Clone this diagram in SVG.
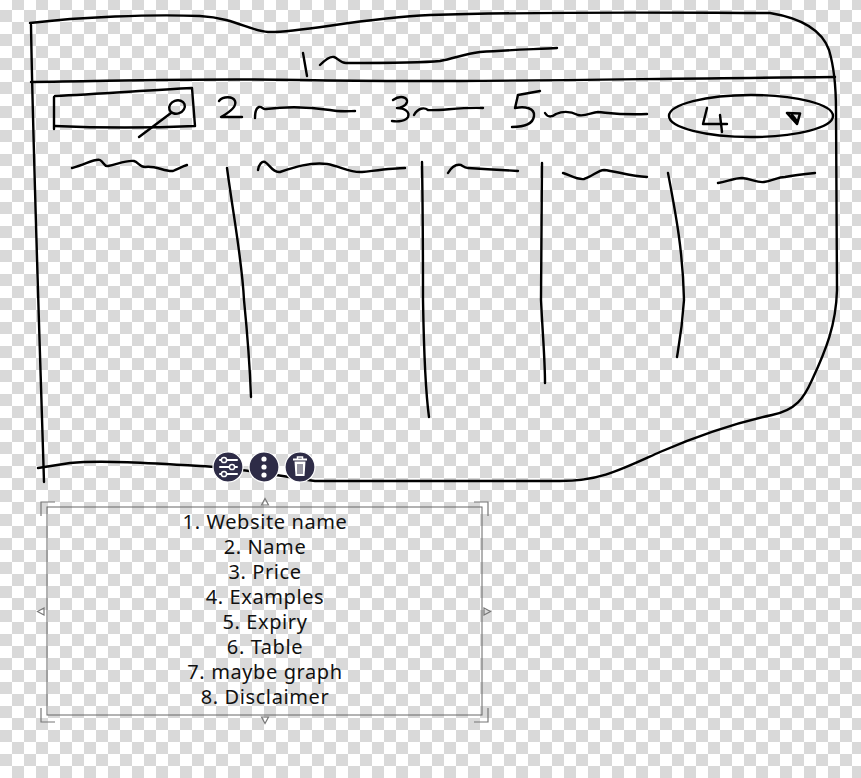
<svg xmlns="http://www.w3.org/2000/svg" width="861" height="778" viewBox="0 0 861 778">
<defs>
<pattern id="checker" x="0" y="-2" width="24" height="24" patternUnits="userSpaceOnUse">
<rect width="24" height="24" fill="#ffffff"/>
<rect x="12" y="0" width="12" height="12" fill="#d9d9d9"/>
<rect x="0" y="12" width="12" height="12" fill="#d9d9d9"/>
</pattern>
<style>
.ink{fill:none;stroke:#000;stroke-width:2.4;stroke-linecap:round;stroke-linejoin:round}
.btn{fill:#2e2c47;stroke:#ffffff;stroke-width:1.2}
.ico{fill:none;stroke:#fff;stroke-width:2;stroke-linecap:round}
.hdl{fill:none;stroke:#777;stroke-width:1.2}
.txt{font-family:"Noto Sans","Open Sans",sans-serif;font-size:20px;letter-spacing:0.6px;fill:#111;text-anchor:middle}
</style>
</defs>
<rect width="861" height="778" fill="url(#checker)"/>

<g id="sketch">
<!-- outer frame -->
<path class="ink" d="M30,23 C80,17 150,14 200,16 C235,18 250,31 268,32 C300,33 360,18 430,15 C560,11 700,13 770,13 C800,18 822,30 829,50 C835,70 836,90 836,110 L837,290 C836,325 826,350 812,380 C804,398 796,410 772,415 C740,422 702,434 660,452 C620,470 600,481 560,481 L315,481 C280,476 240,468 200,466 C150,463 100,460 70,463 L38,468"/>
<path class="ink" d="M31,25 C33,150 40,350 44,482"/>
<!-- header line -->
<path class="ink" d="M31,82 C120,81 200,78 300,80 C450,83 600,79 835,77"/>
<!-- 1 ~ -->
<path class="ink" d="M303,53 L307,76"/>
<path class="ink" d="M320,65 C325,60 330,56 334,57 C338,58 340,63 346,63 C380,63 420,63 440,61 C455,58 465,54 480,52 C510,50 540,49 557,48"/>
<!-- search box -->
<path class="ink" d="M55,96 C100,94 150,90 192,88 L195,126 C150,128 100,128 55,126"/>
<path class="ink" d="M54,97 L54,129"/>
<ellipse class="ink" cx="177" cy="107" rx="8" ry="6.5" transform="rotate(-20 177 107)"/>
<path class="ink" d="M171,113 L139,137"/>
<!-- 2 -->
<path class="ink" d="M219,101 C223,96 233,96 235,101 C237,106 230,112 221,117 L242,117"/>
<path class="ink" d="M255,118 C255,112 256,108 259,107 C262,106 263,110 266,109 C290,106 310,107 330,110 C340,112 350,111 355,111"/>
<!-- 3 -->
<path class="ink" d="M393,100 C400,95 408,97 407,102 C406,106 400,108 397,108 C405,108 410,112 408,117 C406,121 398,122 392,121"/>
<path class="ink" d="M414,115 C418,108 424,107 428,110 C440,111 460,107 483,108"/>
<!-- 5 -->
<path class="ink" d="M540,91 L518,95 L515,108 C525,106 535,108 534,116 C533,124 525,127 512,127"/>
<path class="ink" d="M545,113 C548,118 552,117 556,114 C565,110 572,112 578,115 C585,117 592,112 598,112 C610,113 620,115 647,114"/>
<!-- 4 dropdown -->
<ellipse class="ink" cx="751" cy="116" rx="82" ry="21"/>
<path class="ink" d="M707,108 L703,124 L727,124 M720,115 L722,132"/>
<path class="ink" d="M787,113 L800,113.5 L797,124 Z M792,115 L797,121" style="stroke-width:2.6"/>
<!-- column header squiggles -->
<path class="ink" d="M72,168 C85,165 95,158 100,160 C104,162 104,167 108,166 C118,164 126,160 134,161 C138,162 140,167 145,167 C155,165 165,172 173,171 C178,169 183,166 187,165"/>
<path class="ink" d="M258,170 C259,164 262,161 265,162 C270,165 273,173 280,172 C295,167 310,162 327,164 C340,166 350,173 362,172 C380,170 395,168 405,168"/>
<path class="ink" d="M448,173 C452,166 456,164 461,165 C464,167 465,168 468,168 C485,169 500,170 518,171"/>
<path class="ink" d="M563,173 C570,175 577,180 584,179 C592,177 598,170 604,170 C615,171 630,176 647,177"/>
<path class="ink" d="M718,183 C728,181 735,178 742,178 C752,179 757,183 764,182 C772,181 778,177 785,177 C795,175 805,174 815,173"/>
<!-- column dividers -->
<path class="ink" d="M227,168 C234,220 242,260 244,300 C248,340 250,370 251,397"/>
<path class="ink" d="M422,162 C423,220 423,260 423,300 C424,360 426,395 429,417"/>
<path class="ink" d="M542,163 C542,220 541,260 541,300 C543,340 545,360 545,383"/>
<path class="ink" d="M668,173 C675,210 683,250 684,300 C682,330 679,345 677,357"/>
</g>

<g id="toolbar">
<circle class="btn" cx="228" cy="467" r="15"/>
<path class="ico" d="M220,460 L237,460 M220,467 L237,467 M220,474 L237,474"/>
<circle cx="224" cy="460" r="2.6" fill="#2e2c47" stroke="#fff" stroke-width="1.5"/>
<circle cx="232" cy="467" r="2.6" fill="#2e2c47" stroke="#fff" stroke-width="1.5"/>
<circle cx="224" cy="474" r="2.6" fill="#2e2c47" stroke="#fff" stroke-width="1.5"/>
<circle class="btn" cx="264" cy="467" r="15"/>
<circle cx="264" cy="459" r="2.6" fill="#fff"/>
<circle cx="264" cy="467" r="2.6" fill="#fff"/>
<circle cx="264" cy="475" r="2.6" fill="#fff"/>
<circle class="btn" cx="300" cy="467" r="15"/>
<path d="M293,459.5 L307,459.5" stroke="#fff" stroke-width="2" fill="none"/>
<path d="M297.5,459 L297.5,457 L302.5,457 L302.5,459" stroke="#fff" stroke-width="1.5" fill="none"/>
<path d="M294.5,461.5 L305.5,461.5 L304.5,476 L295.5,476 Z" fill="#fff"/>
<path d="M298,464 L298,474 M300,464 L300,474 M302,464 L302,474" stroke="#2e2c47" stroke-width="1" fill="none"/>
</g>

<g id="legend">
<rect x="47" y="507" width="435" height="208" fill="none" stroke="#666" stroke-width="1"/>
<path class="hdl" d="M41,516 L41,502 L55,502 M474,502 L488,502 L488,516 M41,708 L41,722 L55,722 M474,722 L488,722 L488,708"/>
<path class="hdl" d="M261.5,505 L265,498.5 L268.5,505 Z M261.5,717 L265,723.5 L268.5,717 Z M44,608 L37.5,611.5 L44,615 Z M484,608 L490.5,611.5 L484,615 Z"/>
<text class="txt" x="265" y="529">1. Website name</text>
<text class="txt" x="265" y="554">2. Name</text>
<text class="txt" x="265" y="579">3. Price</text>
<text class="txt" x="265" y="604">4. Examples</text>
<text class="txt" x="265" y="629">5. Expiry</text>
<text class="txt" x="265" y="654">6. Table</text>
<text class="txt" x="265" y="679">7. maybe graph</text>
<text class="txt" x="265" y="704">8. Disclaimer</text>
</g>
</svg>
